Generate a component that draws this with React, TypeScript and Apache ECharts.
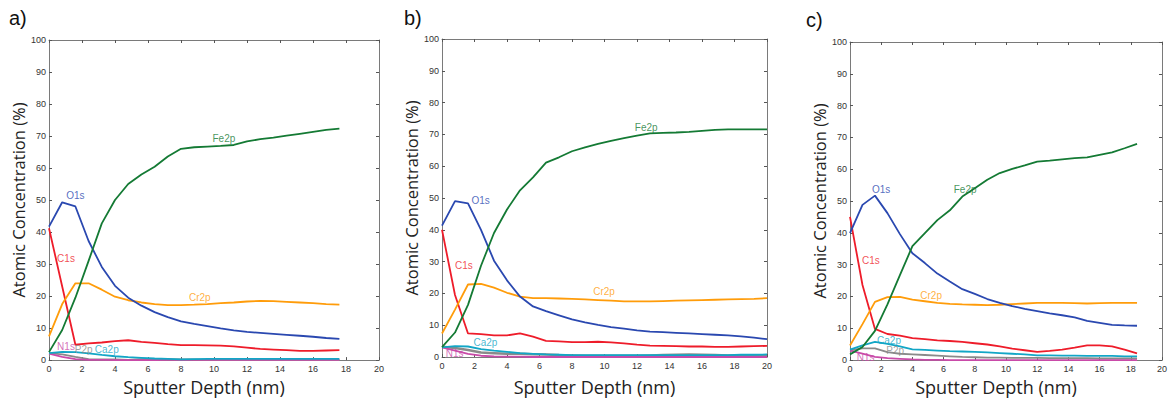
import React, { useEffect, useRef } from "react";
import * as echarts from "echarts";

// Sputter depth grids (nm)
const depthA = [0, 0.8, 1.6, 2.4, 3.2, 4.0, 4.8, 5.6, 6.4, 7.2, 8.0, 8.8, 9.6, 10.4, 11.2, 12.0, 12.8, 13.6, 14.4, 15.2, 16.0, 16.8, 17.6];
const depthB = [0, 0.8, 1.6, 2.4, 3.2, 4.0, 4.8, 5.6, 6.4, 7.2, 8.0, 8.8, 9.6, 10.4, 11.2, 12.0, 12.8, 13.6, 14.4, 15.2, 16.0, 16.8, 17.6, 18.4, 19.2, 20.0];
const depthC = [0, 0.8, 1.6, 2.4, 3.2, 4.0, 4.8, 5.6, 6.4, 7.2, 8.0, 8.8, 9.6, 10.4, 11.2, 12.0, 12.8, 13.6, 14.4, 15.2, 16.0, 16.8, 17.6, 18.4];

// Panel a
const feA = [2.5, 9.4, 19.5, 31, 42.7, 50, 55, 58, 60.4, 63.6, 66, 66.5, 66.7, 66.9, 67.2, 68.3, 69, 69.5, 70.1, 70.7, 71.3, 71.9, 72.3];
const o1A = [41.7, 49.3, 48, 37.2, 29.1, 23.2, 19.5, 17, 15, 13.4, 12.1, 11.3, 10.6, 9.9, 9.3, 8.8, 8.5, 8.2, 7.9, 7.6, 7.3, 6.9, 6.6];
const c1A = [41.2, 23, 4.8, 5.2, 5.5, 5.9, 6.2, 5.7, 5.4, 5.0, 4.7, 4.7, 4.6, 4.5, 4.3, 3.9, 3.5, 3.3, 3.1, 2.9, 2.9, 3.0, 3.1];
const crA = [7.4, 17.5, 24, 24, 22, 19.8, 18.7, 18, 17.5, 17.2, 17.2, 17.3, 17.5, 17.8, 18, 18.3, 18.5, 18.4, 18.2, 18, 17.8, 17.5, 17.3];
const caA = [2.2, 2.6, 2.5, 2.1, 1.6, 1.2, 0.9, 0.7, 0.5, 0.4, 0.2, 0.3, 0.4, 0.4, 0.4, 0.4, 0.4, 0.4, 0.4, 0.4, 0.4, 0.4, 0.4];
const n1A = [2.0, 1.0, 0.3, 0.1, 0.1, 0, 0, 0, 0, 0.1, 0.1, 0.1, 0.1, 0.1, 0.1, 0.1, 0.1, 0.1, 0.1, 0.1, 0.1, 0.1, 0.1];
const p2A = [2.2, 1.8, 1.0, 0.3, 0.2, 0.2, 0.1, 0.3, 0.4, 0.3, 0.2, 0.2, 0.1, 0.1, 0.1, 0.1, 0.1, 0.1, 0.1, 0.1, 0.1, 0.1, 0.1];

// Panel b
const feB = [3.1, 7.7, 16.4, 28.7, 39, 46.4, 52.4, 56.5, 61.1, 62.8, 64.7, 65.9, 67, 68, 68.8, 69.6, 70.3, 70.5, 70.6, 70.8, 71.1, 71.4, 71.6, 71.6, 71.6, 71.6];
const o1B = [41.3, 49, 48.3, 40, 30.3, 24.1, 19, 15.9, 14.4, 13.1, 11.8, 10.9, 10.1, 9.4, 8.9, 8.4, 8.0, 7.8, 7.6, 7.4, 7.2, 7.0, 6.8, 6.5, 6.1, 5.6];
const c1B = [40, 19.5, 7.4, 7.2, 6.8, 6.8, 7.4, 6.4, 5.1, 4.9, 4.7, 4.7, 4.8, 4.6, 4.3, 3.9, 3.6, 3.5, 3.4, 3.3, 3.3, 3.2, 3.2, 3.3, 3.4, 3.5];
const crB = [7.4, 14.9, 22.8, 23, 21.8, 20.2, 19, 18.5, 18.5, 18.4, 18.3, 18.1, 17.9, 17.7, 17.5, 17.5, 17.5, 17.6, 17.7, 17.8, 17.9, 18.0, 18.1, 18.2, 18.3, 18.5];
const caB = [3.0, 3.4, 3.3, 2.5, 2.0, 1.6, 1.2, 1.0, 0.8, 0.7, 0.6, 0.6, 0.6, 0.6, 0.6, 0.6, 0.6, 0.6, 0.6, 0.6, 0.6, 0.6, 0.6, 0.7, 0.7, 0.8];
const n1B = [3.0, 2.0, 1.0, 0.4, 0.2, 0.1, 0.1, 0, 0, 0, 0, 0, 0, 0, 0, 0, 0, 0, 0, 0, 0, 0, 0, 0, 0, 0];
const p2B = [3.2, 2.8, 2.2, 1.4, 1.2, 1.0, 1.0, 0.9, 0.8, 0.6, 0.5, 0.4, 0.4, 0.4, 0.4, 0.4, 0.5, 0.6, 0.7, 0.8, 0.7, 0.6, 0.5, 0.5, 0.5, 0.5];

// Panel c
const feC = [1.8, 4.1, 9.2, 17.5, 26.7, 35.8, 39.9, 44, 47.1, 51.4, 54, 56.7, 58.8, 60.1, 61.2, 62.4, 62.7, 63.1, 63.5, 63.7, 64.5, 65.3, 66.6, 68];
const o1C = [39.9, 48.8, 51.7, 46.2, 39.6, 33.6, 30.5, 27.2, 24.7, 22.3, 20.8, 19.2, 18, 17, 16.1, 15.4, 14.7, 14.1, 13.4, 12.3, 11.7, 11.1, 10.9, 10.8];
const c1C = [45, 23.6, 9.8, 8.2, 7.7, 6.9, 6.6, 6.2, 6.0, 5.7, 5.3, 4.9, 4.3, 3.6, 3.1, 2.6, 2.9, 3.3, 3.9, 4.6, 4.6, 4.3, 3.3, 2.1];
const crC = [4.6, 11.3, 18.3, 19.8, 19.9, 19, 18.5, 18, 17.7, 17.5, 17.4, 17.3, 17.4, 17.6, 17.8, 18, 18, 18, 17.9, 17.8, 17.9, 18, 18, 18];
const caC = [3.3, 4.6, 5.7, 5.1, 4.3, 3.4, 3.2, 3.0, 2.8, 2.7, 2.6, 2.4, 2.2, 2.0, 1.8, 1.5, 1.5, 1.4, 1.4, 1.3, 1.3, 1.3, 1.2, 1.2];
const n1C = [3.0, 2.0, 1.0, 0.6, 0.4, 0.2, 0.1, 0.1, 0, 0, 0, 0, 0, 0, 0, 0, 0, 0, 0, 0, 0, 0, 0, 0];
const p2C = [3.1, 3.7, 3.7, 2.5, 2.0, 1.8, 1.6, 1.4, 1.2, 1.0, 0.9, 0.8, 0.8, 0.7, 0.7, 0.7, 0.6, 0.6, 0.6, 0.6, 0.5, 0.5, 0.5, 0.5];

// Curve label anchors (data coordinates)
const labelNamesA = ["Fe2p", "O1s", "C1s", "Cr2p", "N1s", "P2p", "Ca2p"];
const labelXA = [10.6, 1.6, 1.03, 9.14, 1.03, 2.1, 3.5];
const labelYA = [69.2, 51.5, 31.8, 19.7, 4.3, 3.3, 3.3];
const labelNamesB = ["Fe2p", "O1s", "C1s", "Cr2p", "Ca2p", "N1s"];
const labelXB = [12.57, 2.38, 1.35, 9.97, 2.67, 0.78];
const labelYB = [72.2, 49.1, 28.7, 20.7, 4.6, 1.0];
const labelNamesC = ["O1s", "Fe2p", "C1s", "Cr2p", "Ca2p", "P2p", "N1s"];
const labelXC = [2.0, 7.38, 1.34, 5.2, 2.5, 2.9, 1.0];
const labelYC = [53.6, 53.6, 31.3, 20.2, 6.2, 2.9, 0.8];

const xTicks = [0, 2, 4, 6, 8, 10, 12, 14, 16, 18, 20];
const yTicks = [0, 10, 20, 30, 40, 50, 60, 70, 80, 90, 100];
const panelLetters = ["a)", "b)", "c)"];

const COLORS: Record<string, string> = {
  Fe2p: "#147a34",
  O1s: "#2a48b0",
  C1s: "#ee1c2a",
  Cr2p: "#ff9c0a",
  Ca2p: "#12a6c6",
  N1s: "#c94aa8",
  P2p: "#8a8a8a",
};

const panels = [
  {
    depth: depthA,
    series: { P2p: p2A, N1s: n1A, Ca2p: caA, C1s: c1A, Cr2p: crA, O1s: o1A, Fe2p: feA } as Record<string, number[]>,
    labels: { names: labelNamesA, xs: labelXA, ys: labelYA },
    grid: { left: 49, top: 40, width: 330, height: 329 },
    yNameGap: 22, xNameGap: 15,
    letter: { x: 9, y: 8 },
  },
  {
    depth: depthB,
    series: { P2p: p2B, N1s: n1B, Ca2p: caB, C1s: c1B, Cr2p: crB, O1s: o1B, Fe2p: feB } as Record<string, number[]>,
    labels: { names: labelNamesB, xs: labelXB, ys: labelYB },
    grid: { left: 442, top: 39, width: 325, height: 324 },
    yNameGap: 18, xNameGap: 21,
    letter: { x: 404, y: 8 },
  },
  {
    depth: depthC,
    series: { P2p: p2C, N1s: n1C, Ca2p: caC, C1s: c1C, Cr2p: crC, O1s: o1C, Fe2p: feC } as Record<string, number[]>,
    labels: { names: labelNamesC, xs: labelXC, ys: labelYC },
    grid: { left: 850, top: 42, width: 324, height: 325 },
    yNameGap: 21, xNameGap: 17,
    letter: { x: 806, y: 10 },
  },
];

function buildOption() {
  const grids: any[] = [];
  const xAxes: any[] = [];
  const yAxes: any[] = [];
  const series: any[] = [];
  const graphics: any[] = [];
  const lineCol = "#7a7a7a";
  const tickFont = { fontFamily: "Liberation Sans, Arial, sans-serif", fontSize: 9, color: "#333" };

  panels.forEach((p, i) => {
    grids.push({ ...p.grid, containLabel: false });
    const common = {
      type: "value",
      gridIndex: i,
      min: xTicks[0],
      max: xTicks[xTicks.length - 1],
      interval: 2,
      splitLine: { show: false },
      axisLine: { show: true, onZero: false, lineStyle: { color: lineCol, width: 1 } },
      axisTick: { show: true, inside: true, length: 3, lineStyle: { color: "#555" } },
    };
    xAxes.push({
      ...common,
      position: "bottom",
      axisLabel: { ...tickFont, margin: 4 },
      name: "Sputter Depth (nm)",
      nameLocation: "middle",
      nameGap: p.xNameGap,
      nameTextStyle: { fontFamily: "Open Sans, sans-serif", fontSize: 18, color: "#222", padding: [0, 20, 0, 0] },
    });
    xAxes.push({ ...common, position: "top", axisLabel: { show: false } });
    const ycommon = {
      type: "value",
      gridIndex: i,
      min: yTicks[0],
      max: yTicks[yTicks.length - 1],
      interval: 10,
      splitLine: { show: false },
      axisLine: { show: true, onZero: false, lineStyle: { color: lineCol, width: 1 } },
      axisTick: { show: true, inside: true, length: 3, lineStyle: { color: "#555" } },
    };
    yAxes.push({
      ...ycommon,
      position: "left",
      axisLabel: { ...tickFont, margin: 3 },
      name: "Atomic Concentration (%)",
      nameLocation: "middle",
      nameGap: p.yNameGap,
      nameTextStyle: { fontFamily: "Open Sans, sans-serif", fontSize: 16.5, color: "#222" },
    });
    yAxes.push({ ...ycommon, position: "right", axisLabel: { show: false } });

    Object.keys(p.series).forEach((name) => {
      const vals = p.series[name];
      series.push({
        type: "line",
        name,
        xAxisIndex: 2 * i,
        yAxisIndex: 2 * i,
        data: p.depth.map((d, k) => [d, vals[k]]),
        showSymbol: false,
        symbol: "none",
        lineStyle: { color: COLORS[name], width: name === "P2p" && i === 1 ? 2.5 : 1.8 },
        itemStyle: { color: COLORS[name] },
        clip: true,
        z: 2,
      });
    });

    series.push({
      type: "scatter",
      xAxisIndex: 2 * i,
      yAxisIndex: 2 * i,
      symbolSize: 1,
      itemStyle: { color: "rgba(0,0,0,0)" },
      z: 5,
      data: p.labels.names.map((n, k) => ({
        name: n,
        value: [p.labels.xs[k], p.labels.ys[k]],
        label: {
          show: true,
          position: "inside",
          formatter: "{b}",
          color: COLORS[n],
          fontFamily: "Liberation Sans, Arial, sans-serif",
          fontSize: 10,
        },
      })),
    });

    graphics.push({
      type: "text",
      left: p.letter.x,
      top: p.letter.y,
      style: { text: panelLetters[i], font: "20px 'Liberation Sans', Arial, sans-serif", fill: "#111" },
    });
  });

  return {
    animation: false,
    backgroundColor: "#ffffff",
    grid: grids,
    xAxis: xAxes,
    yAxis: yAxes,
    series,
    graphic: graphics,
  };
}

export default function App() {
  const ref = useRef<HTMLDivElement>(null);
  useEffect(() => {
    document.body.style.margin = "0";
    if (!ref.current) return;
    const chart = echarts.init(ref.current, null, { renderer: "svg" });
    chart.setOption(buildOption() as any);
    return () => chart.dispose();
  }, []);
  return <div ref={ref} style={{ position: "absolute", left: 0, top: 0, width: 1170, height: 401 }} />;
}
